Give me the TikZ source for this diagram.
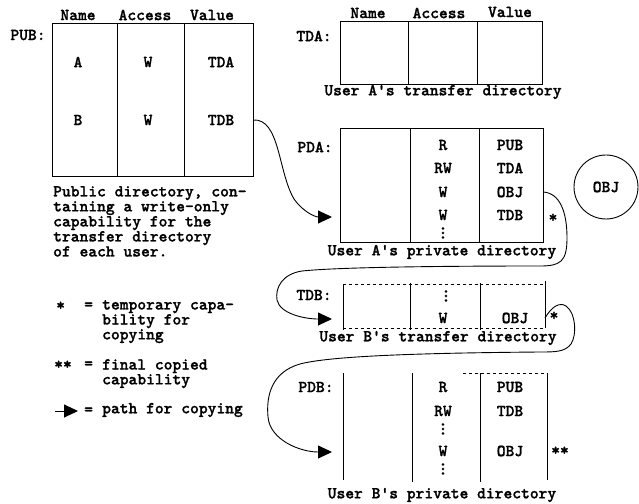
\documentclass[tikz,border=0pt]{standalone}
\usepackage{fontspec}
\newfontfamily\typew{lmmonolt10-bold.otf}[FakeBold=1.2]
\newcommand{\vdts}{\vbox{\baselineskip=4.5bp\lineskiplimit=0pt\hbox{.}\hbox{.}\hbox{.}}}
\usetikzlibrary{positioning,arrows.meta,calc}

\begin{document}
\begin{tikzpicture}[x=1bp,y=-1bp,
  txt/.style={font=\typew\fontsize{16.8}{13}\selectfont,inner sep=0pt},
  captxt/.style={txt,align=left,anchor=north west},
  dts/.style={txt},
  frame/.style={line width=1bp},
  sig/.style={-{Triangle[length=14bp,width=13bp]},line width=0.9bp}]
\useasboundingbox (0,0) rectangle (639,504);
% public directory
\coordinate (pubTR) at (253,24);
\draw[frame] (52,24) rectangle (253,177);
\draw[frame] (117,24) -- (117,177) (184,24) -- (184,177);
\node[txt] (pubHn) at (78,15) {Name};
\node[txt] (pubHa) at (145,15) {Access};
\node[txt] (pubHv) at (212,15) {Value};
\node[txt] (pubLbl) at (28,35) {PUB:};
\foreach \r/\y/\nm/\ac/\va in {1/62/A/W/TDA,2/120/B/W/TDB}{
  \node[txt] (pubN\r) at (78,\y) {\nm};
  \node[txt] (pubA\r) at (148,\y) {\ac};
  \node[txt] (pubV\r) at (221,\y) {\va};
}
\node[captxt] (pubCap) at (53,186)
  {Public directory, con-\\taining a write-only\\capability for the\\transfer directory\\of each user.};
% user A's transfer directory
\draw[frame] (340,22) rectangle (542,85);
\draw[frame] (408,22) -- (408,85) (477,22) -- (477,85);
\node[txt] (tdaHn) at (368,13) {Name};
\node[txt] (tdaHa) at (439,13) {Access};
\node[txt] (tdaHv) at (510,12) {Value};
\node[txt] (tdaLbl) at (314,36) {TDA:};
\node[txt] (tdaCap) at (443,92) {User A's transfer directory};
% user A's private directory
\coordinate (pdaTR) at (543,129);
\coordinate (pdaIn) at (332,217);
\draw[frame] (340,129) rectangle (543,242);
\draw[frame] (410,129) -- (410,242) (479,129) -- (479,242);
\node[txt] (pdaLbl) at (315,147) {PDA:};
\foreach \r/\y/\ac/\va in {1/145/R/PUB,2/168/RW/TDA,3/192/W/OBJ,4/215/W/TDB}{
  \node[txt] (pdaA\r) at (443,\y) {\ac};
  \node[txt] (pdaV\r) at (510,\y) {\va};
}
\node[dts] (pdaDots) at (443,233) {\vdts};
\node[txt] (pdaStar) at (553,218) {*};
\node[txt] (pdaCap) at (442,252) {User A's private directory};
% the object
\node[draw,circle,line width=0.9bp,minimum size=64bp,inner sep=0pt] (obj) at (606,187) {};
\node[txt] (objTxt) at (obj.center) {OBJ};
% user B's transfer directory
\coordinate (tdbTR) at (545,281);
\coordinate (tdbIn) at (332,319);
\draw[frame,dashed] (343,284) -- (545,284) (343,328) -- (545,328);
\draw[frame] (343,284) -- (343,330) (410,283) -- (410,330)
  (480,283) -- (480,330) (545,281) -- (545,328);
\node[txt] (tdbLbl) at (314,295) {TDB:};
\node[dts] (tdbDots) at (446,296) {\vdts};
\node[txt] (tdbA1) at (443,318) {W};
\node[txt] (tdbV1) at (515,318) {OBJ};
\node[txt] (tdbStar) at (554,316) {*};
\node[txt] (tdbCap) at (438,338) {User B's transfer directory};
% user B's private directory
\coordinate (pdbIn) at (332,452);
\draw[frame,dashed] (463,373) -- (547,373);
\draw[frame] (343,373) -- (343,480) (412,373) -- (412,482)
  (480,373) -- (480,482) (547,373) -- (547,480);
\node[txt] (pdbLbl) at (316,387) {PDB:};
\foreach \r/\y/\ac/\va in {1/387/R/PUB,2/411/RW/TDB,3/451/W/OBJ}{
  \node[txt] (pdbA\r) at (443,\y) {\ac};
  \node[txt] (pdbV\r) at (510,\y) {\va};
}
\node[dts] (pdbDots1) at (443,429) {\vdts};
\node[dts] (pdbDots2) at (443,469) {\vdts};
\node[txt] (pdbStar) at (560,451) {**};
\node[txt] (pdbCap) at (442,495) {User B's private directory};
% legend
\node[txt,anchor=west] (lgStar) at (56,306) {*};
\node[txt,anchor=west] (lgEq1) at (84,306) {=};
\node[captxt] (lgTxt1) at (102,300) {temporary capa-\\bility for\\copying};
\node[txt,anchor=west] (lgStar2) at (54,365) {**};
\node[txt,anchor=west] (lgEq2) at (84,365) {=};
\node[captxt] (lgTxt2) at (102,359) {final copied\\capability};
\coordinate (lgS) at (55,411);
\coordinate (lgE) at (78,411);
\draw[sig] (lgS) -- (lgE);
\node[txt,anchor=west] (lgEq3) at (84,411) {=};
\node[txt,anchor=west] (lgTxt3) at (102,410) {path for copying};
% paths for copying
\draw[sig] (pubV2 -| pubTR)
  .. controls (280,118) and (278,172) .. (294,199)
  .. controls (304,213) and (316,217) .. (pdaIn);
\draw[sig] (pdaV3 -| pdaTR)
  .. controls (560,193) and (567,212) .. (567,238)
  .. controls (567,262) and (560,266) .. (540,266)
  .. controls (450,266) and (340,267) .. (302,271)
  .. controls (282,274) and (275,288) .. (277,300)
  .. controls (280,314) and (305,319) .. (tdbIn);
\draw[sig] (tdbV1 -| tdbTR)
  .. controls (552,306) and (560,302) .. (566,306)
  .. controls (576,313) and (577,335) .. (571,344)
  .. controls (565,352) and (555,352) .. (540,352)
  .. controls (420,353) and (330,356) .. (300,364)
  .. controls (272,372) and (266,395) .. (268,417)
  .. controls (270,440) and (300,452) .. (pdbIn);
\end{tikzpicture}
\end{document}
